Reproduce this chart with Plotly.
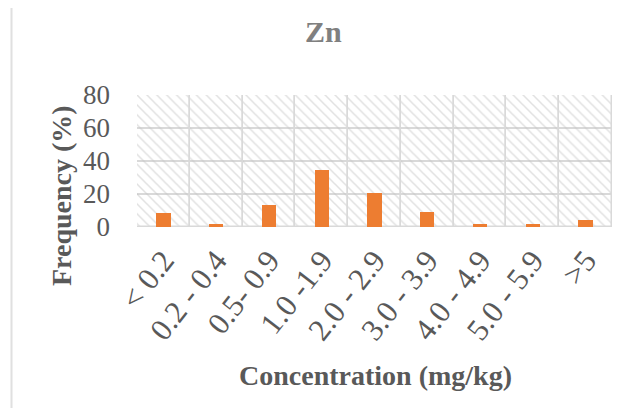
import plotly.graph_objects as go

categories = ["< 0.2", "0.2 - 0.4", "0.5- 0.9", "1.0 -1.9", "2.0 - 2.9",
              "3.0 - 3.9", "4.0 - 4.9", "5.0 - 5.9", ">5"]
frequency = [8.7, 1.8, 13.3, 34.5, 20.6, 9.1, 2.0, 2.0, 4.2]
y_ticks = [0, 20, 40, 60, 80]
y_max = 80

OFF = 8  # page body margin
W, H = 642 - OFF, 408 - OFF
# plot area in screen pixels: x 137..612, y 95..227
L, R, T, B = 137 - OFF, 642 - 612, 95 - OFF, 408 - 227
pw, ph = W - L - R, H - T - B


def px(x):  # screen x -> paper
    return (x - OFF - L) / pw


def py(y):  # screen y -> paper
    return (H - B - (y - OFF)) / ph


FONT = "Liberation Serif, Times New Roman, serif"
GRID = "#d9d9d9"
FRAME = "#e0e0e0"

fig = go.Figure()
# hatched plot-area cells (one per category, spanning the full axis range)
fig.add_trace(go.Bar(
    x=categories, y=[y_max] * len(categories), width=1,
    marker=dict(color="rgba(0,0,0,0)",
                line=dict(color=GRID, width=1.5),
                pattern=dict(shape="\\", fgcolor="#c4c4c4", bgcolor="rgba(0,0,0,0)",
                             size=7, solidity=0.22)),
    hoverinfo="skip", showlegend=False))
fig.add_trace(go.Bar(
    x=categories, y=frequency, width=0.27,
    marker=dict(color="#ED7D31", line=dict(width=0)),
    showlegend=False))

fig.update_layout(
    width=W, height=H,
    margin=dict(l=L, r=R, t=T, b=B),
    paper_bgcolor="white", plot_bgcolor="white",
    barmode="overlay", bargap=0,
    font=dict(family=FONT, color="#595959"),
    xaxis=dict(tickangle=-52, tickfont=dict(size=31, color="#595959"),
               showgrid=False, showline=False, ticks="", ticklabelstandoff=8,
               range=[-0.5, len(categories) - 0.5]),
    yaxis=dict(range=[0, y_max], tickvals=y_ticks, tickfont=dict(size=27, color="#595959"),
               showgrid=True, gridcolor=GRID, gridwidth=1.5, zeroline=False,
               showline=False, ticks="", ticklabelstandoff=26),
    annotations=[
        dict(text="<b>Zn</b>", x=px(323), y=py(31), xref="paper", yref="paper",
             showarrow=False, font=dict(size=30, color="#808080", family=FONT),
             xanchor="center", yanchor="middle"),
        dict(text="<b>Frequency (%)</b>", x=px(61), y=py(196), xref="paper", yref="paper",
             showarrow=False, textangle=-90, font=dict(size=28, color="#595959", family=FONT),
             xanchor="center", yanchor="middle"),
        dict(text="<b>Concentration (mg/kg)</b>", x=px(375), y=py(375), xref="paper", yref="paper",
             showarrow=False, font=dict(size=28, color="#595959", family=FONT),
             xanchor="center", yanchor="middle"),
    ],
    shapes=[
        dict(type="line", xref="paper", yref="paper", x0=px(11.5), x1=px(11.5), y0=py(5.5), y1=py(420),
             line=dict(color=FRAME, width=2)),
        dict(type="line", xref="paper", yref="paper", x0=px(636.5), x1=px(636.5), y0=py(5.5), y1=py(420),
             line=dict(color=FRAME, width=2)),
        dict(type="line", xref="paper", yref="paper", x0=px(11.5), x1=px(140), y0=py(5.5), y1=py(5.5),
             line=dict(color=FRAME, width=2)),
        dict(type="line", xref="paper", yref="paper", x0=px(511), x1=px(636.5), y0=py(5.5), y1=py(5.5),
             line=dict(color=FRAME, width=2)),
    ],
)

fig.write_html("out.html")
